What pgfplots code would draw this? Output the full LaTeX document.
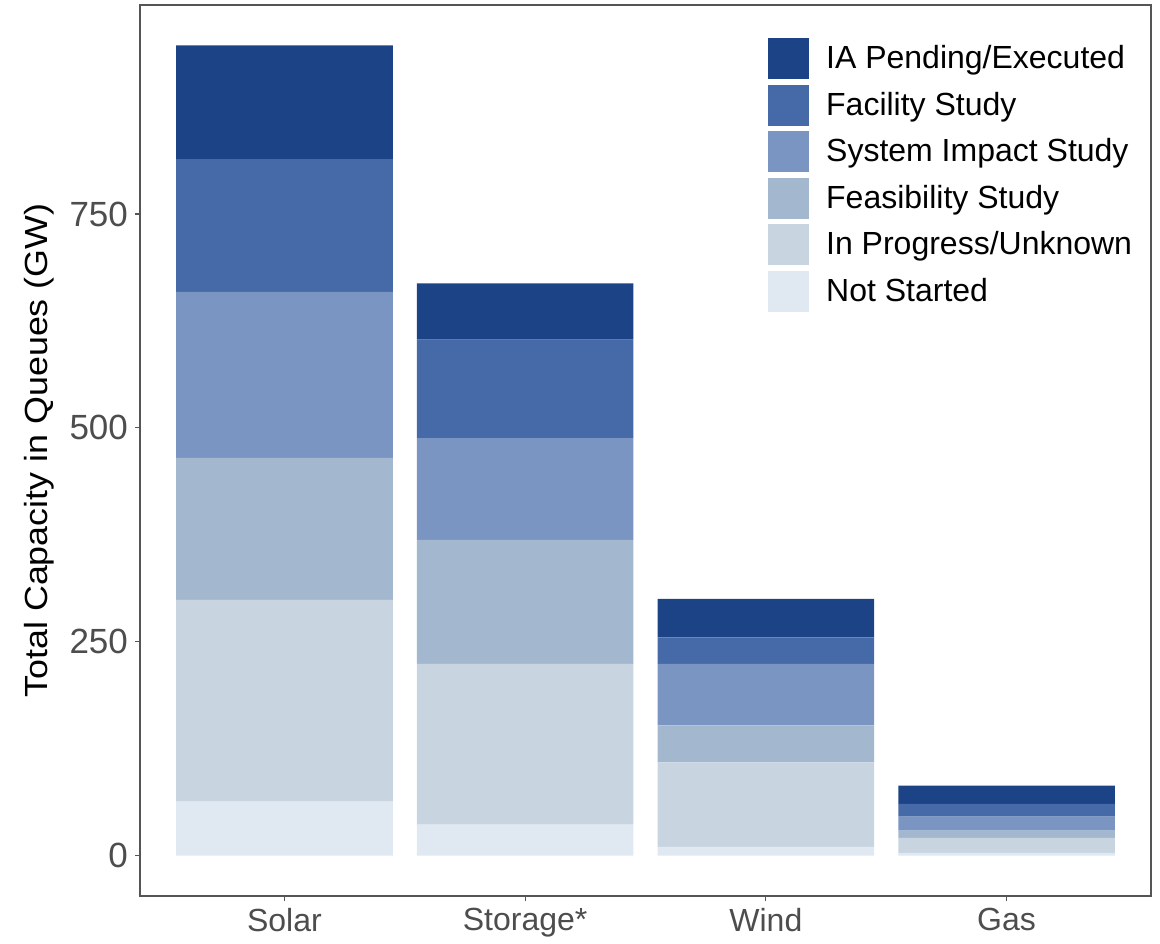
\documentclass[border=0pt]{standalone}
\usepackage{fontspec}
\setmainfont{Liberation Sans}
\newfontfamily\tallfont{Liberation Sans}[FakeStretch=1.12]
\usepackage{pgfplots}
\pgfplotsset{compat=1.18}

\definecolor{cIA}{HTML}{1B4385}
\definecolor{cFac}{HTML}{4669A8}
\definecolor{cSIS}{HTML}{7A95C2}
\definecolor{cFeas}{HTML}{A3B8CF}
\definecolor{cProg}{HTML}{C8D5E0}
\definecolor{cNot}{HTML}{E0E8F2}
\definecolor{frame}{HTML}{555555}
\definecolor{ticktext}{HTML}{4D4D4D}

\begin{document}
\begin{tikzpicture}
\begin{axis}[
  scale only axis,
  width=505.5pt, height=445.5pt,
  ybar stacked,
  bar width=0.9,
  xmin=-0.6, xmax=3.6,
  ymin=-47.35, ymax=994.35,
  xtick=data,
  xticklabels={Solar, Storage*, Wind, Gas},
  ytick={0,250,500,750},
  /pgf/number format/assume math mode=true,
  xticklabel style={font=\fontsize{16}{18}\selectfont, text=ticktext},
  yticklabel style={font=\fontsize{17.5}{19}\selectfont, text=ticktext},
  tick align=outside,
  tick pos=left,
  major tick length=2.5pt,
  tick style={frame, line width=0.6pt},
  axis line style={frame, line width=0.7pt},
  ylabel={Total Capacity in Queues (GW)},
  ylabel style={font=\tallfont\fontsize{16}{18}\selectfont,
    at={(axis description cs:-0.0999,0.5)}, anchor=center},
  every axis plot/.append style={draw=none},
  legend image code/.code={\fill[#1] (0pt,-10.25pt) rectangle (20.5pt,10.25pt);},
  reverse legend,
  legend cell align=left,
  legend style={draw=none, fill=none,
    at={(rel axis cs:0.615,0.9675)}, anchor=north west,
    font=\fontsize{16}{18}\selectfont, row sep=2.75pt,
    nodes={inner sep=0.5pt}, column sep=8pt},
]
\addplot[fill=cNot] coordinates {(0,63) (1,36) (2,10) (3,3)};
\addplot[fill=cProg] coordinates {(0,236) (1,188) (2,99) (3,17.6)};
\addplot[fill=cFeas] coordinates {(0,166) (1,145) (2,43) (3,8.4)};
\addplot[fill=cSIS] coordinates {(0,194) (1,119) (2,72) (3,16.6)};
\addplot[fill=cFac] coordinates {(0,155) (1,115) (2,31) (3,14.7)};
\addplot[fill=cIA] coordinates {(0,133) (1,66) (2,45) (3,21.5)};
\legend{Not Started, In Progress/Unknown, Feasibility Study, System Impact Study, Facility Study, IA Pending/Executed}
\end{axis}
\path ([xshift=-70pt,yshift=-21.5pt]current axis.south west) rectangle ([xshift=4.5pt,yshift=2.5pt]current axis.north east);
\end{tikzpicture}
\end{document}
